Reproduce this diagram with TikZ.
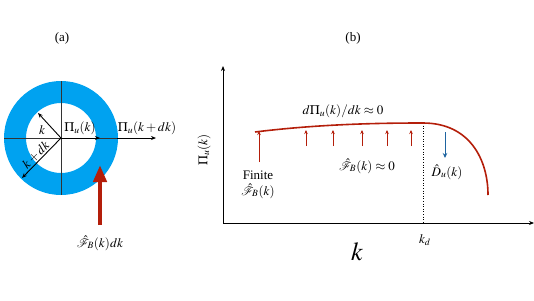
\documentclass[tikz,border=0pt]{standalone}
\usepackage{mathptmx}
\usepackage{mathrsfs}
\usepackage[no-math]{fontspec}
\setmainfont{Liberation Serif}
\usetikzlibrary{arrows.meta}
\definecolor{ringblue}{RGB}{0,162,240}
\definecolor{darkred}{RGB}{180,30,10}
\definecolor{arrblue}{RGB}{30,100,160}
\tikzset{
  lbl/.style={inner sep=0.5pt, font=\fontsize{13}{15}\selectfont},
  thinarr/.style={-{Stealth[length=5pt,width=4pt]}, line width=0.9pt},
  redsmall/.style={darkred, -{Stealth[length=4pt,width=3.5pt]}, line width=0.8pt},
}
\begin{document}
\begin{tikzpicture}[x=1pt,y=-1pt]
\useasboundingbox (0,0) rectangle (534,300);
% panel labels
\node[lbl] (pa) at (62,38) {(a)};
\node[lbl] (pb) at (353,38) {(b)};
% ring
\coordinate (c) at (61,138);
\fill[ringblue, even odd rule] (c) circle[radius=57] (c) circle[radius=35];
\coordinate (hl) at (4,138);
\coordinate (hr) at (118,138);
\coordinate (vt) at (61,81);
\coordinate (vb) at (61,195);
\draw[line width=0.4pt, black!80] (hl) -- (hr);
\draw[line width=0.4pt, black!80] (vt) -- (vb);
\coordinate (ke) at (38,113);
\coordinate (kde) at (22,178);
\coordinate (p1e) at (100,138);
\coordinate (p2s) at (117,138);
\coordinate (p2e) at (156,138);
\draw[thinarr] (c) -- (ke);
\draw[thinarr] (c) -- (kde);
\draw[thinarr] (c) -- (p1e);
\draw[thinarr] (p2s) -- (p2e);
\node[lbl] (kl) at (42,130) {$k$};
\node[lbl, rotate=46] (kdl) at (36,155) {$k+dk$};
\node[lbl] (p1l) at (80,128) {$\Pi_u(k)$};
\node[lbl] (p2l) at (147,128) {$\Pi_u(k+dk)$};
% red forcing arrow
\coordinate (fs) at (100,225);
\coordinate (fe) at (100,165);
\draw[darkred, line width=4.5pt, -{Triangle[length=17pt,width=13pt]}] (fs) -- (fe);
\node[lbl] (fl) at (100,243) {$\hat{\mathscr{F}}_B(k)dk$};
% panel b axes
\coordinate (o) at (223,223);
\coordinate (yt) at (223,66);
\coordinate (xr) at (534,223);
\draw[line width=0.8pt, -{Stealth[length=5pt,width=4pt]}] (o) -- (yt);
\draw[line width=0.8pt, -{Stealth[length=5pt,width=4pt]}] (o) -- (xr);
\node[lbl, rotate=90] (yl) at (204,150) {$\Pi_u(k)$};
\node[inner sep=0pt, font=\fontsize{26}{28}\selectfont] (xl) at (357,252) {$k$};
\node[lbl] (kdl2) at (425,240) {$k_d$};
% dotted line
\coordinate (dtop) at (423,123);
\coordinate (dbot) at (423,223);
\draw[dotted, line width=0.6pt] (dtop) -- (dbot);
% curve
\coordinate (cs) at (255,132);
\coordinate (ce) at (488,195);
\draw[darkred, line width=1.6pt] (cs) .. controls (320,124) and (380,123) .. (dtop)
  .. controls (470,123) and (488,160) .. (ce);
% finite arrow
\coordinate (fa1) at (259,162);
\coordinate (fa2) at (259,131);
\draw[redsmall, line width=0.6pt] (fa1) -- (fa2);
\node[lbl] (fin) at (258,175) {Finite};
\node[lbl] (finf) at (258,191) {$\hat{\mathscr{F}}_B(k)$};
% small red arrows
\foreach \xx [count=\i] in {306,333,362,387,411} {
  \coordinate (sa\i) at (\xx,146);
  \coordinate (sb\i) at (\xx,130);
  \draw[redsmall] (sa\i) -- (sb\i);
}
% blue arrow
\coordinate (ba1) at (445,132);
\coordinate (ba2) at (445,158);
\draw[arrblue, line width=1pt, -{Stealth[length=5pt,width=4.5pt]}] (ba1) -- (ba2);
\node[lbl] (dl) at (343,111) {$d\Pi_u(k)/dk\approx 0$};
\node[lbl] (fz) at (367,166) {$\hat{\mathscr{F}}_B(k)\approx 0$};
\node[lbl] (du) at (447,172) {$\hat{D}_u(k)$};
\end{tikzpicture}
\end{document}
